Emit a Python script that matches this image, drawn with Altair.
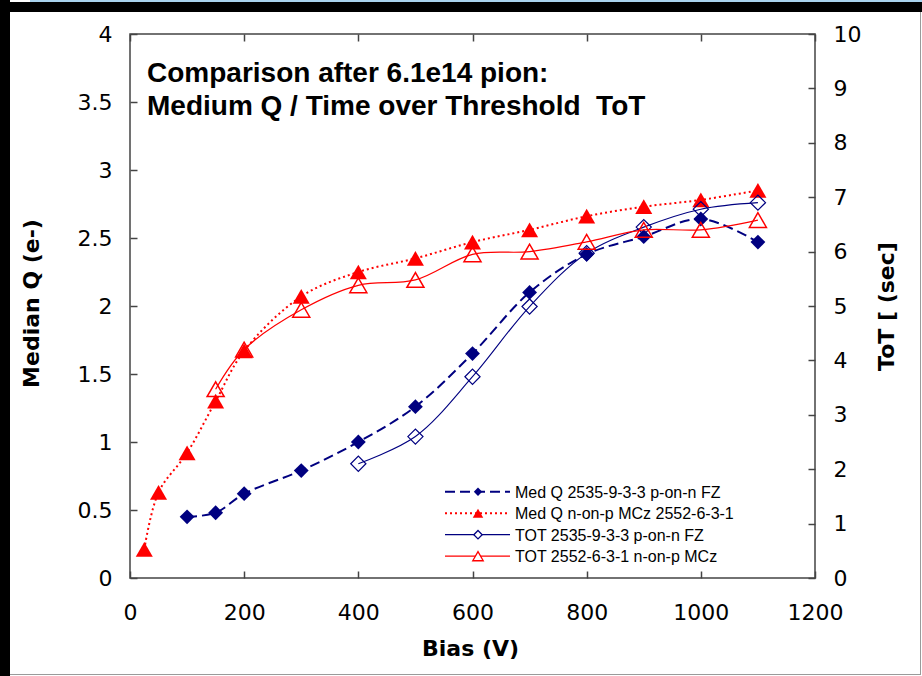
import altair as alt
import pandas as pd

# ---------------- data ----------------
x_ticks = [0, 200, 400, 600, 800, 1000, 1200]
left_ticks = [0, 0.5, 1, 1.5, 2, 2.5, 3, 3.5, 4]
right_ticks = [0, 1, 2, 3, 4, 5, 6, 7, 8, 9, 10]

bias_medq_fz = [100, 150, 200, 300, 400, 500, 600, 700, 800, 900, 1000, 1100]
medq_fz = [0.45, 0.48, 0.62, 0.79, 1.00, 1.26, 1.65, 2.10, 2.38, 2.51, 2.64, 2.47]

bias_medq_mcz = [25, 50, 100, 150, 200, 300, 400, 500, 600, 700, 800, 900, 1000, 1100]
medq_mcz = [0.21, 0.63, 0.92, 1.30, 1.67, 2.07, 2.25, 2.35, 2.47, 2.56, 2.66, 2.73, 2.78, 2.85]

bias_tot_fz = [400, 500, 600, 700, 800, 900, 1000, 1100]
tot_fz = [2.10, 2.60, 3.70, 4.99, 5.97, 6.45, 6.78, 6.90]

bias_tot_mcz = [150, 200, 300, 400, 500, 600, 700, 800, 900, 1000, 1100]
tot_mcz = [3.47, 4.20, 4.93, 5.38, 5.48, 5.95, 6.00, 6.18, 6.40, 6.40, 6.58]

legend_labels = [
    "Med Q 2535-9-3-3 p-on-n FZ",
    "Med Q n-on-p MCz 2552-6-3-1",
    "TOT 2535-9-3-3 p-on-n FZ",
    "TOT 2552-6-3-1 n-on-p MCz",
]
title_lines = ["Comparison after 6.1e14 pion:", "Medium Q / Time over Threshold \u00a0ToT"]

# ---------------- layout / style ----------------
NAVY = "#000080"
RED = "#FF0000"
AXC = "#444444"
TICKFONT = "DejaVu Sans"
TXTFONT = "Liberation Sans"

W, H = 685, 544
PL, PT = 130, 34
FULLW, FULLH = 922, 676


def frame(x, y):
    return pd.DataFrame({"bias": x, "val": y})


xs = alt.Scale(domain=[0, 1200])

x_bottom = alt.X(
    "bias:Q", scale=xs,
    axis=alt.Axis(values=x_ticks, format="d", orient="bottom", offset=-7, tickSize=7,
                  domain=False, grid=False, labelPadding=24, labelFlush=False,
                  title="Bias (V)", titleX=340, titleY=77, titleBaseline="middle",
                  titleAlign="center"))
x_top = alt.X(
    "bias:Q", scale=xs,
    axis=alt.Axis(values=x_ticks, orient="top", offset=-7, tickSize=7, domain=False,
                  grid=False, labels=False, title=None))

y_left = alt.Y(
    "val:Q", scale=alt.Scale(domain=[0, 4]),
    axis=alt.Axis(values=left_ticks, format="~g", orient="left", offset=-7, tickSize=7,
                  domain=False, grid=False, labelPadding=18, labelFlush=False,
                  title="Median Q (e-)",
                  titleX=-106, titleY=269, titleAngle=270, titleAlign="center",
                  titleBaseline="middle"))
y_right = alt.Y(
    "val:Q", scale=alt.Scale(domain=[0, 10]),
    axis=alt.Axis(values=right_ticks, format="d", orient="right", offset=-7, tickSize=7,
                  domain=False, grid=False, labelPadding=18, labelFlush=False,
                  title="ToT [ (sec]",
                  titleX=78, titleY=272, titleAngle=270, titleAlign="center",
                  titleBaseline="middle"))

interp = "catmull-rom"

medq_fz_df = frame(bias_medq_fz, medq_fz)
medq_mcz_df = frame(bias_medq_mcz, medq_mcz)
tot_fz_df = frame(bias_tot_fz, tot_fz)
tot_mcz_df = frame(bias_tot_mcz, tot_mcz)

left_group = alt.layer(
    alt.Chart(medq_fz_df).mark_line(color=NAVY, strokeWidth=2, strokeDash=[10, 5],
                                    interpolate=interp).encode(x=x_bottom, y=y_left),
    alt.Chart(medq_fz_df).mark_point(shape="diamond", filled=True, color=NAVY, size=220,
                                     opacity=1).encode(x=x_bottom, y=y_left),
    alt.Chart(medq_mcz_df).mark_line(color=RED, strokeWidth=2, strokeDash=[2, 3],
                                     interpolate=interp).encode(x=x_bottom, y=y_left),
    alt.Chart(medq_mcz_df).mark_point(shape="triangle-up", filled=True, color=RED, size=290,
                                      opacity=1).encode(x=x_bottom, y=y_left),
)

right_group = alt.layer(
    alt.Chart(tot_fz_df).mark_line(color=NAVY, strokeWidth=1.1,
                                   interpolate=interp).encode(x=x_top, y=y_right),
    alt.Chart(tot_fz_df).mark_point(shape="diamond", filled=False, color=NAVY, size=230,
                                    strokeWidth=1.2, opacity=1).encode(x=x_top, y=y_right),
    alt.Chart(tot_mcz_df).mark_line(color=RED, strokeWidth=1.2,
                                    interpolate=interp).encode(x=x_top, y=y_right),
    alt.Chart(tot_mcz_df).mark_point(shape="triangle-up", filled=False, color=RED, size=290,
                                     strokeWidth=1.5, opacity=1).encode(x=x_top, y=y_right),
)

# ---------------- legend (drawn manually) ----------------
leg_styles = [
    dict(color=NAVY, dash=[10, 5], sw=2, shape="diamond", filled=True, size=70),
    dict(color=RED, dash=[2, 3], sw=2, shape="triangle-up", filled=True, size=110),
    dict(color=NAVY, dash=None, sw=1.2, shape="diamond", filled=False, size=70),
    dict(color=RED, dash=None, sw=1.2, shape="triangle-up", filled=False, size=110),
]
leg_layers = []
row_y0, row_step = 457.7, 21.5
for i, (lab, st) in enumerate(zip(legend_labels, leg_styles)):
    d = pd.DataFrame({"label": [lab]})
    yy = row_y0 + i * row_step
    rule_kw = dict(color=st["color"], strokeWidth=st["sw"])
    if st["dash"]:
        rule_kw["strokeDash"] = st["dash"]
    leg_layers.append(alt.Chart(d).mark_rule(**rule_kw).encode(
        x=alt.value(315), x2=alt.value(380), y=alt.value(yy)))
    pt_kw = dict(shape=st["shape"], filled=st["filled"], color=st["color"], size=st["size"],
                 opacity=1, strokeWidth=1.3)
    if not st["filled"]:
        pt_kw["fill"] = "white"
    leg_layers.append(alt.Chart(d).mark_point(**pt_kw).encode(
        x=alt.value(348), y=alt.value(yy)))
    leg_layers.append(alt.Chart(d).mark_text(
        align="left", baseline="middle", font=TXTFONT, fontSize=16, color="black").encode(
        x=alt.value(385), y=alt.value(yy + 1), text="label:N"))

# ---------------- title inside plot ----------------
title_layer = alt.Chart(pd.DataFrame({"k": [0]})).mark_text(
    align="left", baseline="alphabetic", font=TXTFONT, fontWeight="bold", fontSize=28,
    lineHeight=33, color="black").encode(
    x=alt.value(17), y=alt.value(48), text=alt.value(title_lines))

# ---------------- outer frame (decoration) ----------------
dummy = pd.DataFrame({"k": [0]})
frame_layers = [
    alt.Chart(dummy).mark_rect(color="black").encode(
        x=alt.value(-PL), x2=alt.value(-PL + 10), y=alt.value(-PT), y2=alt.value(FULLH - PT)),
    alt.Chart(dummy).mark_rect(color="black").encode(
        x=alt.value(-PL), x2=alt.value(FULLW - PL), y=alt.value(-PT + 2), y2=alt.value(-PT + 12)),
    alt.Chart(dummy).mark_rect(color="#a9d3ee").encode(
        x=alt.value(-PL + 30), x2=alt.value(FULLW - PL), y=alt.value(-PT), y2=alt.value(-PT + 2)),
    alt.Chart(dummy).mark_rect(color="#9a9a9a").encode(
        x=alt.value(FULLW - PL - 2), x2=alt.value(FULLW - PL - 1), y=alt.value(-PT + 12),
        y2=alt.value(FULLH - PT - 1)),
    alt.Chart(dummy).mark_rect(color="#9a9a9a").encode(
        x=alt.value(-PL + 10), x2=alt.value(FULLW - PL - 1), y=alt.value(FULLH - PT - 2),
        y2=alt.value(FULLH - PT - 1)),
]

chart = alt.layer(
    *frame_layers, left_group, right_group, *leg_layers, title_layer
).resolve_scale(y="independent").resolve_axis(x="independent").properties(
    width=W, height=H,
    autosize=alt.AutoSizeParams(type="none"),
    padding={"left": PL, "top": PT, "right": FULLW - PL - W, "bottom": FULLH - PT - H},
    background="white",
).configure_view(
    stroke=AXC, strokeWidth=1.5
).configure_axis(
    labelFont=TICKFONT, labelFontSize=22, labelColor="black",
    titleFont=TICKFONT, titleFontSize=22, titleFontWeight="bold", titleColor="black",
    tickColor=AXC, tickWidth=1.5,
)

chart.save("out.html", embed_options={"renderer": "svg", "actions": False})
